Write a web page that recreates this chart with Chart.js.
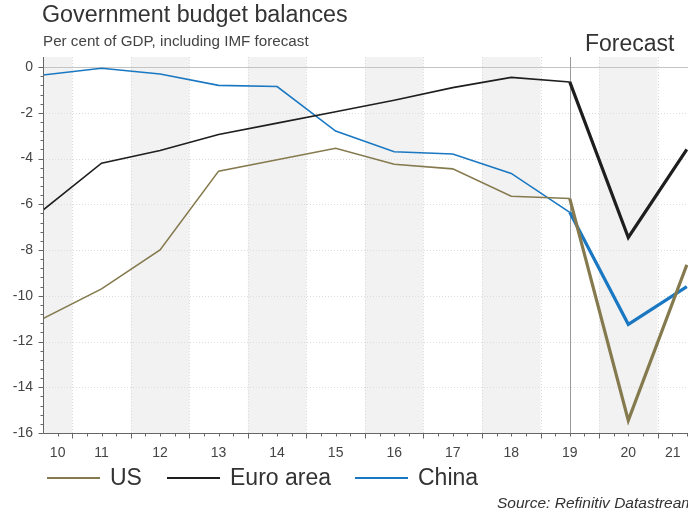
<!DOCTYPE html>
<html>
<head>
<meta charset="utf-8">
<script src="https://cdn.jsdelivr.net/npm/chart.js@4/dist/chart.umd.min.js"></script>
<style>
  body { margin: 0; background: #fff; overflow: hidden; font-family: Arial, "Liberation Sans", sans-serif; color: #333; }
  #wrap { position: relative; width: 688px; height: 515px; overflow: hidden; }
  #chart { position: absolute; left: 0; top: 0; }
  .txt { position: absolute; white-space: nowrap; line-height: 1; }
  #title { left: 42px; top: 3px; font-size: 23.3px; color: #333; }
  #subtitle { left: 43px; top: 33px; font-size: 15.2px; color: #444; }
  #forecast { left: 585px; top: 32px; font-size: 23px; color: #333; }
  #source { left: 497px; top: 495px; font-size: 15.5px; font-style: italic; color: #333; }
  .key { position: absolute; top: 466px; font-size: 23px; color: #333; white-space: nowrap; line-height: 23px; }
  .key span { display: inline-block; width: 53px; height: 0; vertical-align: middle; margin-right: 10px; border-top: 2px solid; position: relative; top: -1px; }
</style>
</head>
<body>
<div id="wrap">
  <canvas id="chart" width="688" height="515"></canvas>
  <div class="txt" id="title">Government budget balances</div>
  <div class="txt" id="subtitle">Per cent of GDP, including IMF forecast</div>
  <div class="txt" id="forecast">Forecast</div>
  <div class="key" style="left:47px"><span style="border-color:#857a4e"></span>US</div>
  <div class="key" style="left:167px"><span style="border-color:#1e1e1e"></span>Euro area</div>
  <div class="key" style="left:355px"><span style="border-color:#1a78c2"></span>China</div>
  <div class="txt" id="source">Source: Refinitiv Datastream</div>
</div>
<script>
// budget balance, % of GDP (2020-21 are IMF forecasts)
const years = [2010, 2011, 2012, 2013, 2014, 2015, 2016, 2017, 2018, 2019, 2020, 2021];
const yearLabels = ['10', '11', '12', '13', '14', '15', '16', '17', '18', '19', '20', '21'];
const usValues = [-11.0, -9.7, -8.0, -4.55, -4.05, -3.55, -4.25, -4.45, -5.65, -5.75, -15.45, -8.65];
const euroValues = [-6.25, -4.2, -3.65, -2.95, -2.45, -1.95, -1.45, -0.9, -0.45, -0.65, -7.45, -3.6];
const chinaValues = [-0.35, -0.05, -0.3, -0.8, -0.85, -2.8, -3.7, -3.8, -4.65, -6.35, -11.25, -9.6];
const yTicks = [0, -2, -4, -6, -8, -10, -12, -14, -16];
const forecastFrom = 2019;

const xMin = 2010, xMax = 2021.02;

function points(vals, from, to) {
  const out = [];
  for (let i = 0; i < years.length; i++) {
    if (years[i] >= from && years[i] <= to) out.push({ x: years[i], y: vals[i] });
  }
  return out;
}

function series(vals, color) {
  return [
    { data: points(vals, 2010, forecastFrom), borderColor: color, borderWidth: 1.6 },
    { data: points(vals, forecastFrom, 2021), borderColor: color, borderWidth: 3.2 }
  ];
}

const backdrop = {
  id: 'backdrop',
  beforeDatasetsDraw(chart) {
    const ctx = chart.ctx;
    const a = chart.chartArea;
    const x = chart.scales.x, y = chart.scales.y;
    ctx.save();
    ctx.beginPath();
    ctx.rect(a.left, a.top, a.right - a.left, a.bottom - a.top);
    ctx.clip();
    // shaded even years
    ctx.fillStyle = '#f2f2f2';
    years.forEach(yr => {
      if (yr % 2 !== 0) return;
      const x0 = x.getPixelForValue(yr - 0.5), x1 = x.getPixelForValue(yr + 0.5);
      ctx.fillRect(x0, a.top, x1 - x0, a.bottom - a.top);
    });
    // dotted grid
    ctx.lineWidth = 1;
    ctx.strokeStyle = '#dcdcdc';
    ctx.setLineDash([1, 2]);
    for (let v = 2010.5; v < xMax; v += 1) {
      const px = Math.round(x.getPixelForValue(v)) + 0.5;
      ctx.beginPath(); ctx.moveTo(px, a.top); ctx.lineTo(px, a.bottom); ctx.stroke();
    }
    yTicks.forEach(v => {
      if (v === 0 || v === -16) return;
      const py = Math.round(y.getPixelForValue(v)) + 0.5;
      ctx.beginPath(); ctx.moveTo(a.left, py); ctx.lineTo(a.right, py); ctx.stroke();
    });
    ctx.setLineDash([]);
    // zero line
    ctx.strokeStyle = '#c4c4c4';
    const zy = Math.round(y.getPixelForValue(0)) + 0.5;
    ctx.beginPath(); ctx.moveTo(a.left, zy); ctx.lineTo(a.right, zy); ctx.stroke();
    // start of forecast
    ctx.strokeStyle = '#9a9a9a';
    const fx = Math.round(x.getPixelForValue(forecastFrom)) + 0.5;
    ctx.beginPath(); ctx.moveTo(fx, a.top); ctx.lineTo(fx, a.bottom); ctx.stroke();
    ctx.restore();
  },
  afterDraw(chart) {
    const ctx = chart.ctx;
    const a = chart.chartArea;
    const x = chart.scales.x, y = chart.scales.y;
    ctx.save();
    ctx.strokeStyle = '#666';
    ctx.lineWidth = 1;
    const lx = Math.round(a.left) + 0.5, by = Math.round(a.bottom) + 0.5;
    ctx.beginPath();
    ctx.moveTo(lx, a.top); ctx.lineTo(lx, by); ctx.lineTo(a.right, by);
    // y ticks
    for (let v = -16; v <= 0.001; v += 0.4) {
      const py = Math.round(y.getPixelForValue(v)) + 0.5;
      const major = Math.abs(v - Math.round(v / 2) * 2) < 0.01;
      ctx.moveTo(lx, py); ctx.lineTo(lx - (major ? 5 : 3), py);
    }
    // x ticks: half-years major, quarters minor
    for (let v = 2010.25; v < xMax; v += 0.25) {
      const px = Math.round(x.getPixelForValue(v)) + 0.5;
      const major = Math.abs((v % 1) - 0.5) < 0.01;
      ctx.moveTo(px, by); ctx.lineTo(px, by + (major ? 5 : 3));
    }
    ctx.stroke();
    // year labels centred in the visible part of each year
    ctx.fillStyle = '#444';
    ctx.font = '14px Arial, "Liberation Sans", sans-serif';
    ctx.textAlign = 'center';
    ctx.textBaseline = 'middle';
    years.forEach((yr, i) => {
      const x0 = x.getPixelForValue(Math.max(yr - 0.5, xMin));
      const x1 = x.getPixelForValue(Math.min(yr + 0.5, xMax));
      ctx.fillText(yearLabels[i], (x0 + x1) / 2, a.bottom + 20);
    });
    ctx.restore();
  }
};

new Chart(document.getElementById('chart'), {
  type: 'line',
  data: {
    datasets: [
      ...series(usValues, '#857a4e'),
      ...series(euroValues, '#1e1e1e'),
      ...series(chinaValues, '#1a78c2')
    ]
  },
  options: {
    responsive: false,
    animation: false,
    devicePixelRatio: 1,
    layout: { padding: { top: 57, bottom: 82, left: 0, right: 0 } },
    elements: { point: { radius: 0 }, line: { tension: 0, borderJoinStyle: 'miter' } },
    plugins: { legend: { display: false }, tooltip: { enabled: false } },
    scales: {
      x: { type: 'linear', min: xMin, max: xMax, display: false },
      y: {
        min: -16,
        max: 0.44,
        afterBuildTicks: scale => { scale.ticks = yTicks.map(v => ({ value: v })); },
        afterFit: scale => { scale.width = 43; },
        grid: { display: false, drawTicks: false },
        border: { display: false },
        ticks: {
          padding: 10,
          color: '#444',
          font: { family: 'Arial, "Liberation Sans", sans-serif', size: 14 },
          callback: v => String(v)
        }
      }
    }
  },
  plugins: [backdrop]
});
</script>
</body>
</html>
